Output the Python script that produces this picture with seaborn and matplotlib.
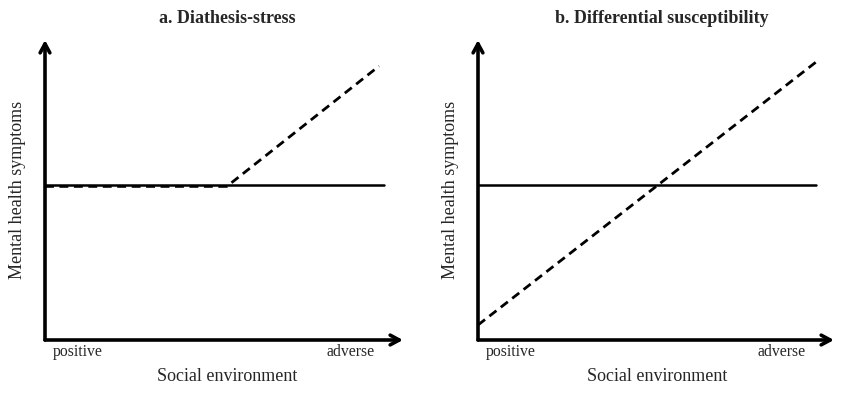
import matplotlib
matplotlib.use("Agg")
import matplotlib.pyplot as plt
import seaborn as sns
import pandas as pd

sns.set_style("white")
plt.rcParams["font.family"] = ["Liberation Serif", "DejaVu Serif"]

# panel a: diathesis-stress
env_a = [0, 9.47]
solid_a = [5.17, 5.17]
env_a_dash = [0, 5.08, 9.33]
dash_a = [5.12, 5.12, 9.13]

# panel b: differential susceptibility
env_b = [0, 9.5]
solid_b = [5.17, 5.17]
env_b_dash = [0, 9.5]
dash_b = [0.5, 9.27]

titles = ["a. Diathesis-stress", "b. Differential susceptibility"]
xlab = "Social environment"
ylab = "Mental health symptoms"
tick_lo, tick_hi = "positive", "adverse"

fig = plt.figure(figsize=(8.5, 3.98), dpi=100)
ax_a = fig.add_axes([45/850, 58/398, 358/850, 300/398])
ax_b = fig.add_axes([478/850, 58/398, 356/850, 300/398])

panels = [
    (ax_a, env_a, solid_a, env_a_dash, dash_a, 0.51, 0.51),
    (ax_b, env_b, solid_b, env_b_dash, dash_b, 0.517, 0.503),
]

for i, (ax, xs, ys, xd, yd, tx, lx) in enumerate(panels):
    sns.lineplot(x=xs, y=ys, ax=ax, color="black", lw=1.8, sort=False)
    sns.lineplot(x=xd, y=yd, ax=ax, color="black", lw=2.0, sort=False)
    ax.lines[-1].set_linestyle((0, (3.2, 2.0)))
    ax.set_xlim(0, 10)
    ax.set_ylim(0, 10)
    for s in ax.spines.values():
        s.set_visible(False)
    ax.set_xticks([])
    ax.set_yticks([])
    ax.patch.set_alpha(0)

    # axis arrows
    arrow = dict(arrowstyle="->,head_length=0.65,head_width=0.35", lw=2.6,
                 color="black", shrinkA=0, shrinkB=0)
    ax.annotate("", xy=(1.0, 0), xytext=(0, 0), xycoords="axes fraction",
                textcoords="axes fraction", arrowprops=arrow)
    ax.annotate("", xy=(0, 1.0), xytext=(0, 0), xycoords="axes fraction",
                textcoords="axes fraction", arrowprops=arrow)

    ax.text(tx, 1.073, titles[i], transform=ax.transAxes, ha="center",
            va="center", fontsize=13, fontweight="bold")
    ax.text(0.022, -0.04, tick_lo, transform=ax.transAxes, ha="left",
            va="center", fontsize=11.3)
    ax.text(0.921, -0.04, tick_hi, transform=ax.transAxes, ha="right",
            va="center", fontsize=11.3)
    ax.text(lx, -0.123, xlab, transform=ax.transAxes, ha="center",
            va="center", fontsize=13)
    ax.text(-0.078, 0.5, ylab, transform=ax.transAxes, ha="center",
            va="center", rotation=90, fontsize=13)

fig.savefig("out.png", dpi=100)
